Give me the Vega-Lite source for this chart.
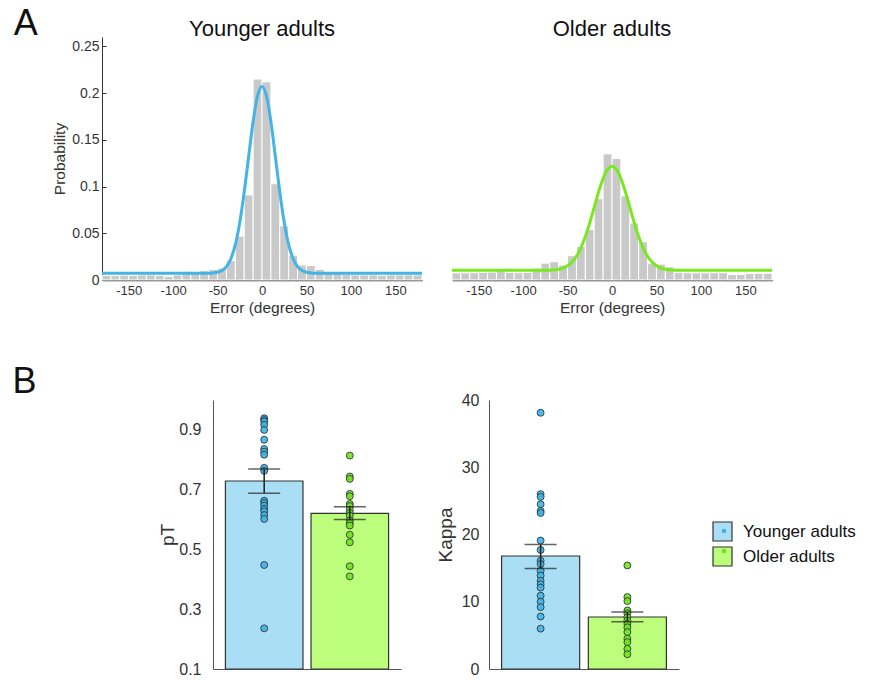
{
  "$schema": "https://vega.github.io/schema/vega-lite/v6.json",
  "padding": {"left": 12, "top": 6, "right": 0, "bottom": 0},
  "background": "white",
  "config": {
    "view": {"stroke": null},
    "font": "Liberation Sans",
    "title": {"font": "Liberation Sans", "color": "#111", "fontWeight": "normal"},
    "axis": {"labelFont": "Liberation Sans", "titleFont": "Liberation Sans", "labelColor": "#333", "titleColor": "#333", "titleFontWeight": "normal", "domainColor": "#333", "tickColor": "#333", "grid": false},
    "legend": {"labelFont": "Liberation Sans"}
  },
  "datasets": {
    "hist": [
      {"g":"Younger adults","b0":-180,"b1":-170,"p":0.0050},{"g":"Younger adults","b0":-170,"b1":-160,"p":0.0048},{"g":"Younger adults","b0":-160,"b1":-150,"p":0.0052},{"g":"Younger adults","b0":-150,"b1":-140,"p":0.0050},{"g":"Younger adults","b0":-140,"b1":-130,"p":0.0055},{"g":"Younger adults","b0":-130,"b1":-120,"p":0.0055},{"g":"Younger adults","b0":-120,"b1":-110,"p":0.0050},{"g":"Younger adults","b0":-110,"b1":-100,"p":0.0040},{"g":"Younger adults","b0":-100,"b1":-90,"p":0.0055},{"g":"Younger adults","b0":-90,"b1":-80,"p":0.0093},{"g":"Younger adults","b0":-80,"b1":-70,"p":0.0070},{"g":"Younger adults","b0":-70,"b1":-60,"p":0.0100},{"g":"Younger adults","b0":-60,"b1":-50,"p":0.0113},{"g":"Younger adults","b0":-50,"b1":-40,"p":0.0125},{"g":"Younger adults","b0":-40,"b1":-30,"p":0.0210},{"g":"Younger adults","b0":-30,"b1":-20,"p":0.0470},{"g":"Younger adults","b0":-20,"b1":-10,"p":0.0910},{"g":"Younger adults","b0":-10,"b1":0,"p":0.2150},{"g":"Younger adults","b0":0,"b1":10,"p":0.2120},{"g":"Younger adults","b0":10,"b1":20,"p":0.1030},{"g":"Younger adults","b0":20,"b1":30,"p":0.0580},{"g":"Younger adults","b0":30,"b1":40,"p":0.0265},{"g":"Younger adults","b0":40,"b1":50,"p":0.0160},{"g":"Younger adults","b0":50,"b1":60,"p":0.0155},{"g":"Younger adults","b0":60,"b1":70,"p":0.0115},{"g":"Younger adults","b0":70,"b1":80,"p":0.0086},{"g":"Younger adults","b0":80,"b1":90,"p":0.0070},{"g":"Younger adults","b0":90,"b1":100,"p":0.0060},{"g":"Younger adults","b0":100,"b1":110,"p":0.0055},{"g":"Younger adults","b0":110,"b1":120,"p":0.0055},{"g":"Younger adults","b0":120,"b1":130,"p":0.0055},{"g":"Younger adults","b0":130,"b1":140,"p":0.0050},{"g":"Younger adults","b0":140,"b1":150,"p":0.0055},{"g":"Younger adults","b0":150,"b1":160,"p":0.0055},{"g":"Younger adults","b0":160,"b1":170,"p":0.0055},{"g":"Younger adults","b0":170,"b1":180,"p":0.0055},
      {"g":"Older adults","b0":-180,"b1":-170,"p":0.0076},{"g":"Older adults","b0":-170,"b1":-160,"p":0.0078},{"g":"Older adults","b0":-160,"b1":-150,"p":0.0078},{"g":"Older adults","b0":-150,"b1":-140,"p":0.0080},{"g":"Older adults","b0":-140,"b1":-130,"p":0.0085},{"g":"Older adults","b0":-130,"b1":-120,"p":0.0100},{"g":"Older adults","b0":-120,"b1":-110,"p":0.0080},{"g":"Older adults","b0":-110,"b1":-100,"p":0.0078},{"g":"Older adults","b0":-100,"b1":-90,"p":0.0080},{"g":"Older adults","b0":-90,"b1":-80,"p":0.0127},{"g":"Older adults","b0":-80,"b1":-70,"p":0.0180},{"g":"Older adults","b0":-70,"b1":-60,"p":0.0196},{"g":"Older adults","b0":-60,"b1":-50,"p":0.0160},{"g":"Older adults","b0":-50,"b1":-40,"p":0.0260},{"g":"Older adults","b0":-40,"b1":-30,"p":0.0360},{"g":"Older adults","b0":-30,"b1":-20,"p":0.0540},{"g":"Older adults","b0":-20,"b1":-10,"p":0.0870},{"g":"Older adults","b0":-10,"b1":0,"p":0.1350},{"g":"Older adults","b0":0,"b1":10,"p":0.1300},{"g":"Older adults","b0":10,"b1":20,"p":0.0900},{"g":"Older adults","b0":20,"b1":30,"p":0.0610},{"g":"Older adults","b0":30,"b1":40,"p":0.0410},{"g":"Older adults","b0":40,"b1":50,"p":0.0180},{"g":"Older adults","b0":50,"b1":60,"p":0.0170},{"g":"Older adults","b0":60,"b1":70,"p":0.0140},{"g":"Older adults","b0":70,"b1":80,"p":0.0080},{"g":"Older adults","b0":80,"b1":90,"p":0.0078},{"g":"Older adults","b0":90,"b1":100,"p":0.0078},{"g":"Older adults","b0":100,"b1":110,"p":0.0078},{"g":"Older adults","b0":110,"b1":120,"p":0.0078},{"g":"Older adults","b0":120,"b1":130,"p":0.0078},{"g":"Older adults","b0":130,"b1":140,"p":0.0058},{"g":"Older adults","b0":140,"b1":150,"p":0.0060},{"g":"Older adults","b0":150,"b1":160,"p":0.0070},{"g":"Older adults","b0":160,"b1":170,"p":0.0072},{"g":"Older adults","b0":170,"b1":180,"p":0.0072}
    ],
    "curve": [
      {"g":"Younger adults","x":-180,"p":0.0072},{"g":"Younger adults","x":-120,"p":0.0072},{"g":"Younger adults","x":-90,"p":0.0072},{"g":"Younger adults","x":-70,"p":0.0072},{"g":"Younger adults","x":-60,"p":0.0073},{"g":"Younger adults","x":-55,"p":0.0076},{"g":"Younger adults","x":-50,"p":0.0083},{"g":"Younger adults","x":-45,"p":0.0102},{"g":"Younger adults","x":-40,"p":0.0144},{"g":"Younger adults","x":-35,"p":0.0228},{"g":"Younger adults","x":-30,"p":0.0379},{"g":"Younger adults","x":-25,"p":0.0616},{"g":"Younger adults","x":-20,"p":0.0941},{"g":"Younger adults","x":-15,"p":0.1323},{"g":"Younger adults","x":-10,"p":0.1695},{"g":"Younger adults","x":-5,"p":0.1969},{"g":"Younger adults","x":0,"p":0.2070},{"g":"Younger adults","x":5,"p":0.1969},{"g":"Younger adults","x":10,"p":0.1695},{"g":"Younger adults","x":15,"p":0.1323},{"g":"Younger adults","x":20,"p":0.0941},{"g":"Younger adults","x":25,"p":0.0616},{"g":"Younger adults","x":30,"p":0.0379},{"g":"Younger adults","x":35,"p":0.0228},{"g":"Younger adults","x":40,"p":0.0144},{"g":"Younger adults","x":45,"p":0.0102},{"g":"Younger adults","x":50,"p":0.0083},{"g":"Younger adults","x":55,"p":0.0076},{"g":"Younger adults","x":60,"p":0.0073},{"g":"Younger adults","x":70,"p":0.0072},{"g":"Younger adults","x":90,"p":0.0072},{"g":"Younger adults","x":120,"p":0.0072},{"g":"Younger adults","x":180,"p":0.0072},
      {"g":"Older adults","x":-180,"p":0.0103},{"g":"Older adults","x":-120,"p":0.0103},{"g":"Older adults","x":-90,"p":0.0103},{"g":"Older adults","x":-80,"p":0.0103},{"g":"Older adults","x":-70,"p":0.0105},{"g":"Older adults","x":-65,"p":0.0109},{"g":"Older adults","x":-60,"p":0.0115},{"g":"Older adults","x":-55,"p":0.0128},{"g":"Older adults","x":-50,"p":0.0152},{"g":"Older adults","x":-45,"p":0.0192},{"g":"Older adults","x":-40,"p":0.0254},{"g":"Older adults","x":-35,"p":0.0344},{"g":"Older adults","x":-30,"p":0.0465},{"g":"Older adults","x":-25,"p":0.0613},{"g":"Older adults","x":-20,"p":0.0779},{"g":"Older adults","x":-15,"p":0.0944},{"g":"Older adults","x":-10,"p":0.1086},{"g":"Older adults","x":-5,"p":0.1183},{"g":"Older adults","x":0,"p":0.1217},{"g":"Older adults","x":5,"p":0.1183},{"g":"Older adults","x":10,"p":0.1086},{"g":"Older adults","x":15,"p":0.0944},{"g":"Older adults","x":20,"p":0.0779},{"g":"Older adults","x":25,"p":0.0613},{"g":"Older adults","x":30,"p":0.0465},{"g":"Older adults","x":35,"p":0.0344},{"g":"Older adults","x":40,"p":0.0254},{"g":"Older adults","x":45,"p":0.0192},{"g":"Older adults","x":50,"p":0.0152},{"g":"Older adults","x":55,"p":0.0128},{"g":"Older adults","x":60,"p":0.0115},{"g":"Older adults","x":65,"p":0.0109},{"g":"Older adults","x":70,"p":0.0105},{"g":"Older adults","x":80,"p":0.0103},{"g":"Older adults","x":90,"p":0.0103},{"g":"Older adults","x":120,"p":0.0103},{"g":"Older adults","x":180,"p":0.0103}
    ],
    "pts": [
      {"g":"Younger adults","m":"pT","v":0.939},{"g":"Younger adults","m":"pT","v":0.933},{"g":"Younger adults","m":"pT","v":0.928},{"g":"Younger adults","m":"pT","v":0.917},{"g":"Younger adults","m":"pT","v":0.900},{"g":"Younger adults","m":"pT","v":0.867},{"g":"Younger adults","m":"pT","v":0.836},{"g":"Younger adults","m":"pT","v":0.827},{"g":"Younger adults","m":"pT","v":0.817},{"g":"Younger adults","m":"pT","v":0.773},{"g":"Younger adults","m":"pT","v":0.763},{"g":"Younger adults","m":"pT","v":0.663},{"g":"Younger adults","m":"pT","v":0.656},{"g":"Younger adults","m":"pT","v":0.647},{"g":"Younger adults","m":"pT","v":0.636},{"g":"Younger adults","m":"pT","v":0.628},{"g":"Younger adults","m":"pT","v":0.615},{"g":"Younger adults","m":"pT","v":0.602},{"g":"Younger adults","m":"pT","v":0.448},{"g":"Younger adults","m":"pT","v":0.236},
      {"g":"Older adults","m":"pT","v":0.814},{"g":"Older adults","m":"pT","v":0.744},{"g":"Older adults","m":"pT","v":0.736},{"g":"Older adults","m":"pT","v":0.686},{"g":"Older adults","m":"pT","v":0.678},{"g":"Older adults","m":"pT","v":0.652},{"g":"Older adults","m":"pT","v":0.645},{"g":"Older adults","m":"pT","v":0.633},{"g":"Older adults","m":"pT","v":0.622},{"g":"Older adults","m":"pT","v":0.613},{"g":"Older adults","m":"pT","v":0.597},{"g":"Older adults","m":"pT","v":0.588},{"g":"Older adults","m":"pT","v":0.580},{"g":"Older adults","m":"pT","v":0.549},{"g":"Older adults","m":"pT","v":0.524},{"g":"Older adults","m":"pT","v":0.444},{"g":"Older adults","m":"pT","v":0.410},
      {"g":"Younger adults","m":"Kappa","v":38.1},{"g":"Younger adults","m":"Kappa","v":26.0},{"g":"Younger adults","m":"Kappa","v":25.6},{"g":"Younger adults","m":"Kappa","v":24.5},{"g":"Younger adults","m":"Kappa","v":23.5},{"g":"Younger adults","m":"Kappa","v":23.2},{"g":"Younger adults","m":"Kappa","v":19.1},{"g":"Younger adults","m":"Kappa","v":17.7},{"g":"Younger adults","m":"Kappa","v":16.1},{"g":"Younger adults","m":"Kappa","v":15.6},{"g":"Younger adults","m":"Kappa","v":14.6},{"g":"Younger adults","m":"Kappa","v":13.9},{"g":"Younger adults","m":"Kappa","v":13.1},{"g":"Younger adults","m":"Kappa","v":12.6},{"g":"Younger adults","m":"Kappa","v":12.1},{"g":"Younger adults","m":"Kappa","v":10.9},{"g":"Younger adults","m":"Kappa","v":10.0},{"g":"Younger adults","m":"Kappa","v":9.2},{"g":"Younger adults","m":"Kappa","v":7.8},{"g":"Younger adults","m":"Kappa","v":6.0},
      {"g":"Older adults","m":"Kappa","v":15.4},{"g":"Older adults","m":"Kappa","v":10.7},{"g":"Older adults","m":"Kappa","v":10.1},{"g":"Older adults","m":"Kappa","v":8.7},{"g":"Older adults","m":"Kappa","v":8.3},{"g":"Older adults","m":"Kappa","v":7.7},{"g":"Older adults","m":"Kappa","v":7.2},{"g":"Older adults","m":"Kappa","v":6.7},{"g":"Older adults","m":"Kappa","v":6.2},{"g":"Older adults","m":"Kappa","v":5.5},{"g":"Older adults","m":"Kappa","v":4.5},{"g":"Older adults","m":"Kappa","v":4.0},{"g":"Older adults","m":"Kappa","v":3.0},{"g":"Older adults","m":"Kappa","v":2.2}
    ],
    "summ": [
      {"g":"Younger adults","m":"pT","mean":0.729,"lo":0.688,"hi":0.769},
      {"g":"Older adults","m":"pT","mean":0.621,"lo":0.600,"hi":0.643},
      {"g":"Younger adults","m":"Kappa","mean":16.8,"lo":14.96,"hi":18.5},
      {"g":"Older adults","m":"Kappa","mean":7.73,"lo":7.03,"hi":8.47}
    ]
  },
  "resolve": {"scale": {"fill": "independent", "color": "independent"}},
  "spacing": 48,
  "vconcat": [
    {
      "title": {"text": "A", "anchor": "start", "fontSize": 36, "fontWeight": "normal", "color": "#111", "dx": -39, "dy": 29},
      "spacing": 18,
      "resolve": {"scale": {"fill": "independent", "color": "independent"}},
      "hconcat": [
        {
          "width": 320, "height": 243,
          "title": {"text": "Younger adults", "fontSize": 22, "fontWeight": "normal", "color": "#111", "offset": -4},
          "layer": [
            {
              "data": {"name": "hist"},
              "transform": [{"filter": "datum.g == 'Younger adults'"}],
              "mark": {"type": "bar", "fill": "#c9c9c9", "stroke": "white", "strokeWidth": 1},
              "encoding": {
                "x": {"field": "b0", "type": "quantitative", "scale": {"domain": [-180, 180], "nice": false},
                      "axis": {"values": [-150, -100, -50, 0, 50, 100, 150], "labelExpr": "'' + datum.value", "title": "Error (degrees)", "labelFontSize": 13, "titleFontSize": 15.5, "tickSize": -4, "labelPadding": 8, "titlePadding": 3, "domainWidth": 1.5}},
                "x2": {"field": "b1"},
                "y": {"field": "p", "type": "quantitative", "scale": {"domain": [0, 0.25]},
                      "axis": {"values": [0, 0.05, 0.1, 0.15, 0.2, 0.25], "format": "~g", "title": "Probability", "labelFontSize": 14, "titleFontSize": 15.5, "tickSize": -4, "labelPadding": 7, "titlePadding": 4}},
                "y2": {"datum": 0}
              }
            },
            {
              "data": {"name": "curve"},
              "transform": [{"filter": "datum.g == 'Younger adults'"}],
              "mark": {"type": "line", "color": "#44b4e6", "strokeWidth": 3, "interpolate": "monotone"},
              "encoding": {
                "x": {"field": "x", "type": "quantitative"},
                "y": {"field": "p", "type": "quantitative"}
              }
            }
          ]
        },
        {
          "width": 320, "height": 243,
          "title": {"text": "Older adults", "fontSize": 22, "fontWeight": "normal", "color": "#111", "offset": -4},
          "layer": [
            {
              "data": {"name": "hist"},
              "transform": [{"filter": "datum.g == 'Older adults'"}],
              "mark": {"type": "bar", "fill": "#c9c9c9", "stroke": "white", "strokeWidth": 1},
              "encoding": {
                "x": {"field": "b0", "type": "quantitative", "scale": {"domain": [-180, 180], "nice": false},
                      "axis": {"values": [-150, -100, -50, 0, 50, 100, 150], "labelExpr": "'' + datum.value", "title": "Error (degrees)", "labelFontSize": 13, "titleFontSize": 15.5, "tickSize": -4, "labelPadding": 8, "titlePadding": 3, "domainWidth": 1.5}},
                "x2": {"field": "b1"},
                "y": {"field": "p", "type": "quantitative", "scale": {"domain": [0, 0.25]}, "axis": null},
                "y2": {"datum": 0}
              }
            },
            {
              "data": {"name": "curve"},
              "transform": [{"filter": "datum.g == 'Older adults'"}],
              "mark": {"type": "line", "color": "#7ae81e", "strokeWidth": 3, "interpolate": "monotone"},
              "encoding": {
                "x": {"field": "x", "type": "quantitative"},
                "y": {"field": "p", "type": "quantitative"}
              }
            }
          ]
        }
      ]
    },
    {
      "title": {"text": "B", "anchor": "start", "fontSize": 36, "fontWeight": "normal", "color": "#111", "dx": -89, "dy": 13},
      "spacing": 35,
      "resolve": {"scale": {"fill": "independent", "color": "independent"}},
      "hconcat": [
        {
          "width": 21, "height": 269,
          "data": {"values": [{}]},
          "mark": {"type": "rule", "opacity": 0},
          "encoding": {}
        },
        {
          "width": 188, "height": 269,
          "layer": [
            {
              "data": {"name": "summ"},
              "transform": [{"filter": "datum.m == 'pT'"}],
              "mark": {"type": "bar", "stroke": "#333", "strokeWidth": 1.2},
              "encoding": {
                "x": {"field": "g", "type": "nominal", "sort": ["Younger adults", "Older adults"], "scale": {"paddingInner": 0.094, "paddingOuter": 0.145},
                      "axis": {"labels": false, "ticks": false, "title": null, "domainColor": "#555"}},
                "y": {"field": "mean", "type": "quantitative", "scale": {"domain": [0.1, 1.0], "nice": false},
                      "axis": {"values": [0.1, 0.3, 0.5, 0.7, 0.9], "format": "~g", "title": "pT", "labelFontSize": 16, "titleFontSize": 19, "ticks": false, "labelPadding": 12, "titlePadding": 1, "domainColor": "#555"}},
                "y2": {"datum": 0.1},
                "fill": {"field": "g", "type": "nominal", "sort": ["Younger adults", "Older adults"], "scale": {"range": ["#a9def4", "#bdfd7c"]}, "legend": null}
              }
            },
            {
              "data": {"name": "pts"},
              "transform": [{"filter": "datum.m == 'pT'"}],
              "mark": {"type": "circle", "size": 48, "stroke": "#2a3a40", "strokeWidth": 0.9, "fillOpacity": 0.9},
              "encoding": {
                "x": {"field": "g", "type": "nominal", "sort": ["Younger adults", "Older adults"]},
                "y": {"field": "v", "type": "quantitative"},
                "color": {"field": "g", "type": "nominal", "scale": {"domain": ["Younger adults", "Older adults"], "range": ["#3fb3e6", "#72e21c"]}, "legend": null}
              }
            },
            {
              "data": {"name": "summ"},
              "transform": [{"filter": "datum.m == 'pT'"}],
              "mark": {"type": "rule", "color": "#222", "strokeWidth": 1.5},
              "encoding": {
                "x": {"field": "g", "type": "nominal", "sort": ["Younger adults", "Older adults"]},
                "y": {"field": "lo", "type": "quantitative"},
                "y2": {"field": "hi"}
              }
            },
            {
              "data": {"name": "summ"},
              "transform": [{"filter": "datum.m == 'pT'"}],
              "mark": {"type": "tick", "color": "#222", "size": 32, "thickness": 1.5},
              "encoding": {
                "x": {"field": "g", "type": "nominal", "sort": ["Younger adults", "Older adults"]},
                "y": {"field": "lo", "type": "quantitative"}
              }
            },
            {
              "data": {"name": "summ"},
              "transform": [{"filter": "datum.m == 'pT'"}],
              "mark": {"type": "tick", "color": "#222", "size": 32, "thickness": 1.5},
              "encoding": {
                "x": {"field": "g", "type": "nominal", "sort": ["Younger adults", "Older adults"]},
                "y": {"field": "hi", "type": "quantitative"}
              }
            }
          ]
        },
        {
          "width": 190, "height": 269,
          "layer": [
            {
              "data": {"name": "summ"},
              "transform": [{"filter": "datum.m == 'Kappa'"}],
              "mark": {"type": "bar", "stroke": "#333", "strokeWidth": 1.2},
              "encoding": {
                "x": {"field": "g", "type": "nominal", "sort": ["Younger adults", "Older adults"], "scale": {"paddingInner": 0.1, "paddingOuter": 0.145},
                      "axis": {"labels": false, "ticks": false, "title": null, "domainColor": "#555"}},
                "y": {"field": "mean", "type": "quantitative", "scale": {"domain": [0, 40], "nice": false},
                      "axis": {"values": [0, 10, 20, 30, 40], "title": "Kappa", "labelFontSize": 16, "titleFontSize": 19, "ticks": false, "labelPadding": 10, "titlePadding": 6, "domainColor": "#555"}},
                "fill": {"field": "g", "type": "nominal", "sort": ["Younger adults", "Older adults"], "scale": {"range": ["#a9def4", "#bdfd7c"]},
                         "legend": {"orient": "none", "legendX": 223, "legendY": 121, "title": null, "symbolType": "square", "symbolSize": 361, "symbolStrokeColor": "#333", "symbolStrokeWidth": 1.2, "symbolOpacity": 1, "labelFontSize": 17, "labelColor": "#111", "rowPadding": 0, "labelOffset": 10}}
              }
            },
            {
              "data": {"name": "pts"},
              "transform": [{"filter": "datum.m == 'Kappa'"}],
              "mark": {"type": "circle", "size": 48, "stroke": "#2a3a40", "strokeWidth": 0.9, "fillOpacity": 0.9},
              "encoding": {
                "x": {"field": "g", "type": "nominal", "sort": ["Younger adults", "Older adults"]},
                "y": {"field": "v", "type": "quantitative"},
                "color": {"field": "g", "type": "nominal", "scale": {"domain": ["Younger adults", "Older adults"], "range": ["#3fb3e6", "#72e21c"]},
                          "legend": {"orient": "none", "legendX": 225, "legendY": 121, "title": null, "symbolType": "circle", "symbolSize": 20, "symbolStrokeWidth": 0, "symbolOpacity": 1, "labelFontSize": 20, "labelExpr": "''", "rowPadding": 0, "labelOffset": 0}}
              }
            },
            {
              "data": {"name": "summ"},
              "transform": [{"filter": "datum.m == 'Kappa'"}],
              "mark": {"type": "rule", "color": "#222", "strokeWidth": 1.5},
              "encoding": {
                "x": {"field": "g", "type": "nominal", "sort": ["Younger adults", "Older adults"]},
                "y": {"field": "lo", "type": "quantitative"},
                "y2": {"field": "hi"}
              }
            },
            {
              "data": {"name": "summ"},
              "transform": [{"filter": "datum.m == 'Kappa'"}],
              "mark": {"type": "tick", "color": "#222", "size": 32, "thickness": 1.5},
              "encoding": {
                "x": {"field": "g", "type": "nominal", "sort": ["Younger adults", "Older adults"]},
                "y": {"field": "lo", "type": "quantitative"}
              }
            },
            {
              "data": {"name": "summ"},
              "transform": [{"filter": "datum.m == 'Kappa'"}],
              "mark": {"type": "tick", "color": "#222", "size": 32, "thickness": 1.5},
              "encoding": {
                "x": {"field": "g", "type": "nominal", "sort": ["Younger adults", "Older adults"]},
                "y": {"field": "hi", "type": "quantitative"}
              }
            }
          ]
        }
      ]
    }
  ]
}
